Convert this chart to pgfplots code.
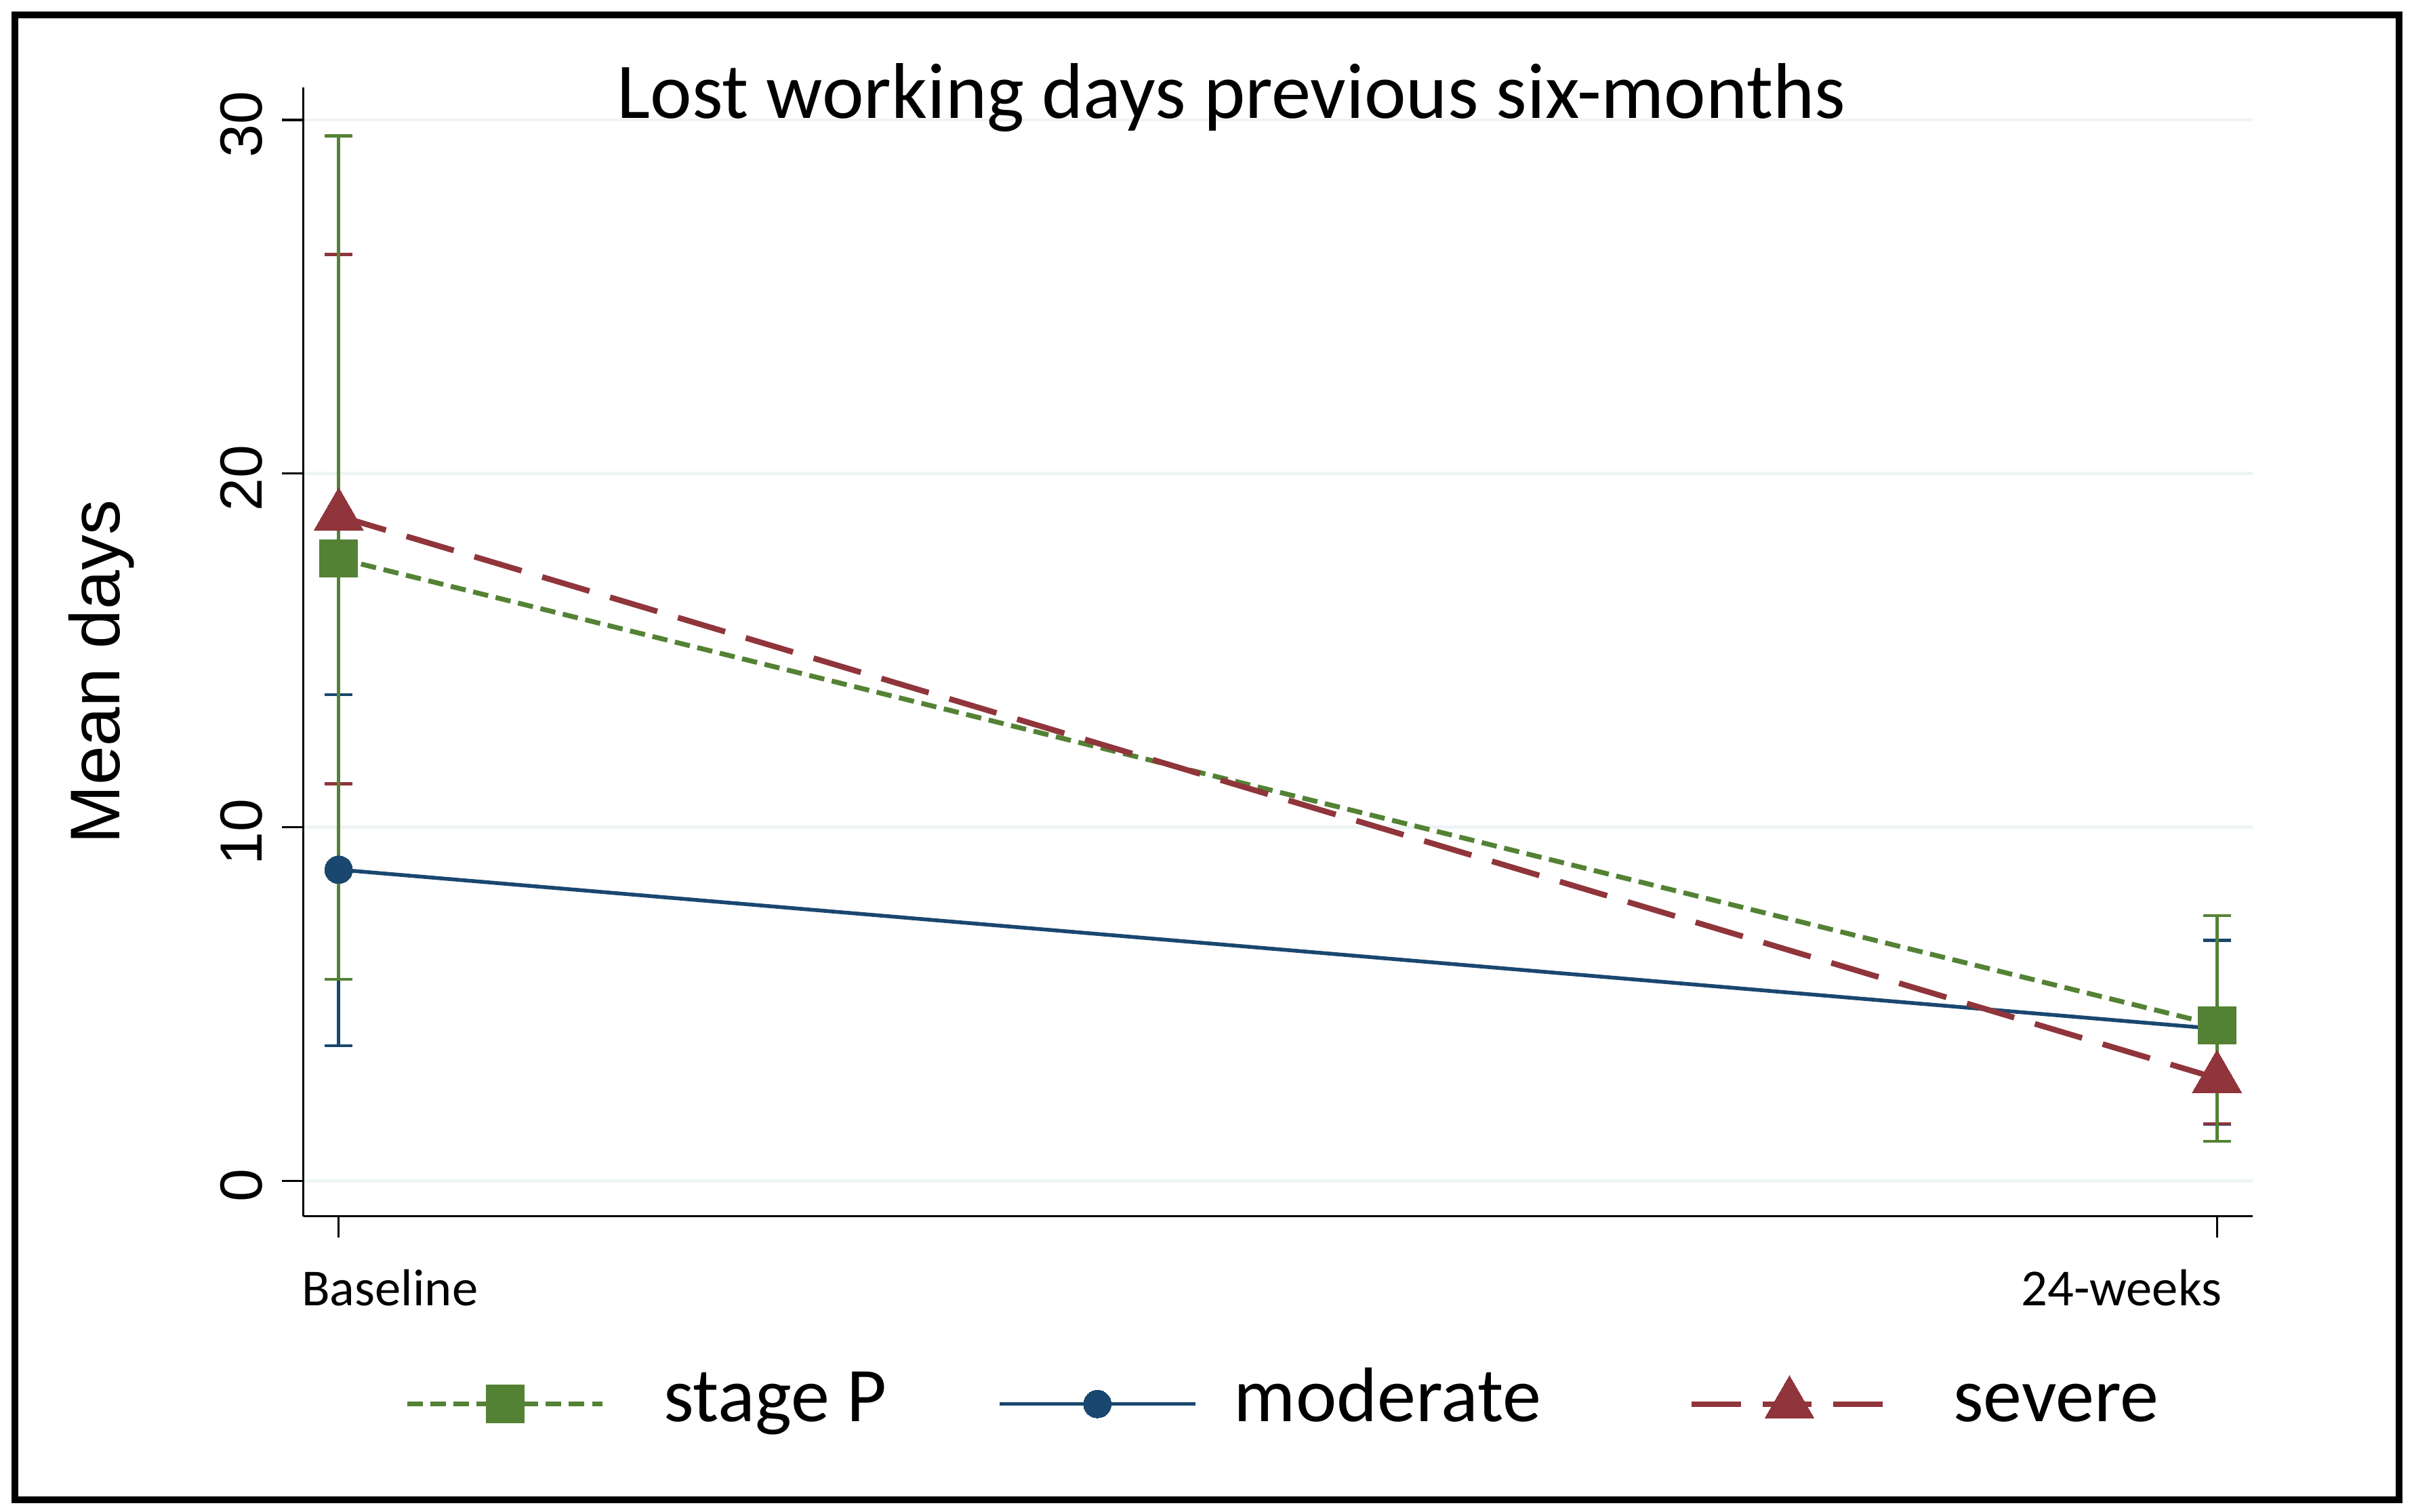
\documentclass[border=0pt]{standalone}
\usepackage{fontspec}
\setmainfont{Carlito}
\newfontfamily\arialf{Liberation Sans}
\usepackage{pgfplots}
\usepackage{pgfplotstable}
\pgfplotsset{compat=1.18}

\definecolor{stgreen}{HTML}{548235}
\definecolor{stnavy}{HTML}{1A476F}
\definecolor{stred}{HTML}{90353B}
\definecolor{gridc}{RGB}{238,244,245}

% time (0 = baseline, 1 = 24 weeks), mean, lower CI, upper CI
\pgfplotstableread{
x mean lo hi
0 17.6 5.70 29.55
1 4.4 1.12 7.50
}\stageP
\pgfplotstableread{
x mean lo hi
0 8.8 3.82 13.75
1 4.3 1.60 6.80
}\moderate
\pgfplotstableread{
x mean lo hi
0 18.8 11.23 26.20
1 2.9 1.62 4.20
}\severe

\pgfplotsset{
  cibar/.style={forget plot, draw=none, mark=none,
    error bars/.cd, y dir=both, y explicit,
    error bar style={draw=#1, line width=0.58pt, solid},
    error mark options={draw=#1, line width=0.58pt, mark size=0.09cm, rotate=90}},
  stPstyle/.style={stgreen, line width=0.9pt, dash pattern=on 0.10cm off 0.05cm,
    mark=square*, mark size=0.1225cm, mark options={solid, fill=stgreen, draw=stgreen, line width=0pt}},
  modstyle/.style={stnavy, line width=0.7pt, solid,
    mark=*, mark size=0.09cm, mark options={solid, fill=stnavy, draw=stnavy, line width=0pt}},
  sevstyle/.style={stred, line width=1.05pt, dash pattern=on 0.32cm off 0.14cm,
    mark=triangle*, mark size=0.185cm, mark options={solid, fill=stred, draw=stred, line width=0pt}},
}

\begin{document}
\begin{tikzpicture}
\useasboundingbox (0,0) rectangle (15.68,9.82);
\fill[white] (0,0) rectangle (15.68,9.82);
\draw[black, line width=0.044cm] (0.095,0.08) rectangle (15.583,9.723);
\begin{axis}[
  at={(1.97cm,1.92cm)}, anchor=south west,
  scale only axis, width=12.66cm, height=7.33cm,
  xmin=-0.01885, xmax=1.01885, ymin=-1.0, ymax=30.91,
  axis x line*=bottom, axis y line*=left,
  axis line style={black, line width=0.42pt},
  tick align=outside, major tick length=0.14cm,
  tick style={black, line width=0.42pt},
  xtick={0,1},
  xticklabels={{\makebox[0pt][l]{\hspace{-0.24cm}Baseline}},{\makebox[0pt][r]{24-weeks\hspace{-0.03cm}}}},
  xticklabel style={font=\fontsize{9.6}{11.5}\selectfont, anchor=base, yshift=-0.44cm},
  ytick={0,10,20,30},
  yticklabel style={font=\arialf\fontsize{11}{13}\selectfont, rotate=90, anchor=south, xshift=-0.03cm},
  /pgf/number format/assume math mode=true,
  ymajorgrids, major grid style={line width=0.6pt, gridc},
  ylabel={Mean days},
  every axis y label/.style={at={(axis description cs:-0.1035,0.4823)}, rotate=90, anchor=center,
    font=\arialf\fontsize{13}{15}\selectfont},
  title={Lost working days previous six-months},
  title style={at={(axis description cs:0.4763,0.944)}, anchor=base, font=\fontsize{14.6}{17}\selectfont},
  legend style={at={(axis description cs:0.0521,-0.1664)}, anchor=west, draw=none, fill=none,
    inner sep=0pt, outer sep=0pt, column sep=0pt,
    nodes={inner sep=0pt, text height=0.9em, text depth=0.25em}, font=\fontsize{14.3}{17}\selectfont,
    /tikz/column 1/.style={column sep=0.38cm},
    /tikz/column 2/.style={column sep=0.72cm},
    /tikz/column 3/.style={column sep=0.24cm},
    /tikz/column 4/.style={column sep=0.96cm},
    /tikz/column 5/.style={column sep=0.41cm}},
  legend columns=3,
  legend cell align=left,
  legend image code/.code={\draw[#1, mark repeat=2, mark phase=2] plot coordinates {(0cm,0cm) (0.635cm,0cm) (1.27cm,0cm)};},
]
% confidence intervals
\addplot[cibar=stnavy] table[x=x, y=mean, y error plus expr=\thisrow{hi}-\thisrow{mean}, y error minus expr=\thisrow{mean}-\thisrow{lo}] {\moderate};
\addplot[cibar=stred] table[x=x, y=mean, y error plus expr=\thisrow{hi}-\thisrow{mean}, y error minus expr=\thisrow{mean}-\thisrow{lo}] {\severe};
\addplot[cibar=stgreen] table[x=x, y=mean, y error plus expr=\thisrow{hi}-\thisrow{mean}, y error minus expr=\thisrow{mean}-\thisrow{lo}] {\stageP};
% means
\addplot[modstyle, forget plot] table[x=x, y=mean] {\moderate};
\addplot[stPstyle, forget plot] table[x=x, y=mean] {\stageP};
\addplot[sevstyle, forget plot] table[x=x, y=mean] {\severe};
% legend
\addlegendimage{stPstyle}
\addlegendimage{modstyle}
\addlegendimage{sevstyle}
\legend{stage P, moderate, severe}
\end{axis}
\end{tikzpicture}
\end{document}
